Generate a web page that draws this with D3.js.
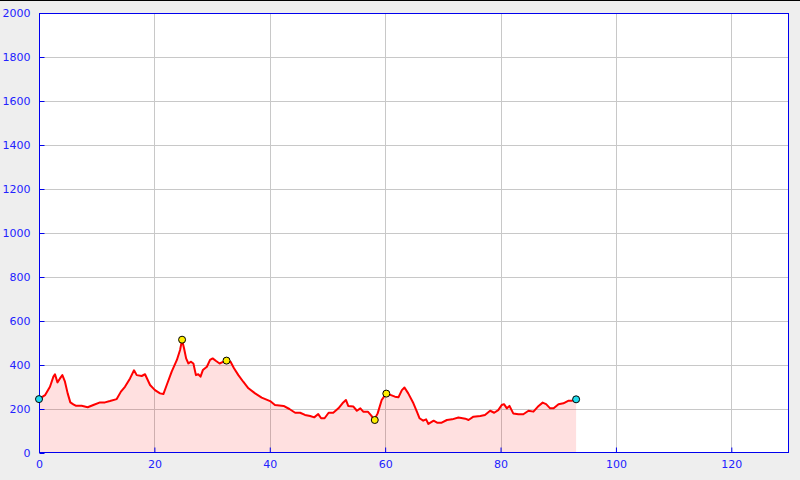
<!DOCTYPE html>
<html>
<head>
<meta charset="utf-8">
<script src="https://cdn.jsdelivr.net/npm/d3@7"></script>
<style>
html,body{margin:0;padding:0;background:#eeeeee;}
svg{display:block;}
</style>
</head>
<body>
<svg id="chart" width="800" height="480"></svg>
<script>
const distances = [0,1.04,1.9,2.5,2.77,3.2,3.64,4.05,4.5,4.97,5.43,5.95,6.36,7.4,8.44,9.42,10.58,11.44,12.3,13.47,14.2,14.9,15.78,16.47,16.94,17.8,18.38,19.25,20.1,20.98,21.56,22.14,23.0,23.9,24.45,24.8,25.14,25.5,25.9,26.3,26.76,27.2,27.6,28.0,28.4,29.1,29.65,30.1,30.7,31.3,32.0,32.5,33.2,33.8,34.56,35.4,36.3,37.46,38.6,40.06,40.9,42.4,43.4,44.4,45.26,46.1,47.0,47.7,48.4,48.9,49.5,50.2,51.0,51.9,52.6,53.2,53.6,54.5,55.1,55.7,56.2,57.0,57.6,58.1,58.7,59.4,60.2,60.9,61.7,62.3,62.9,63.35,64.0,64.9,65.5,65.95,66.6,67.1,67.5,68.4,69.0,69.8,70.7,71.6,72.7,73.9,74.45,75.3,76.5,77.3,78.2,78.9,79.6,80.2,80.6,81.1,81.55,82.2,83.1,83.95,84.85,85.7,86.6,87.3,87.9,88.6,89.2,90.05,90.9,91.8,92.4,93.1];
const elevations = [245,263,301,347,358,321,339,354,324,271,230,221,215,215,208,218,230,230,236,245,279,301,339,376,354,350,358,309,286,271,268,309,370,423,468,514,476,430,407,415,407,354,358,347,377,392,423,430,418,407,415,423,415,385,354,324,294,271,252,236,218,214,200,183,183,173,168,162,177,158,158,183,183,203,226,241,214,211,192,203,188,188,170,150,180,241,271,264,256,253,286,298,271,226,188,158,147,153,132,147,138,138,150,153,161,156,150,165,168,173,192,183,195,218,222,203,214,180,176,176,192,188,214,229,222,203,203,222,226,238,238,244];
const endpointDist = [0, 93.1];
const endpointElev = [245, 244];
const summitDist = [24.8, 32.5, 58.2, 60.2];
const summitElev = [515, 420, 150, 270];
const xTicks = [0,20,40,60,80,100,120];
const yTicks = [0,200,400,600,800,1000,1200,1400,1600,1800,2000];

const svg = d3.select('#chart');
const pl = 39, pr = 789, pt = 13, pb = 453;
const x = d3.scaleLinear().domain([0,130]).range([pl,pr]);
const y = d3.scaleLinear().domain([0,2000]).range([pb,pt]);

svg.append('rect').attr('x',0).attr('y',0).attr('width',800).attr('height',480).attr('fill','#eeeeee');
svg.append('line').attr('x1',0).attr('x2',800).attr('y1',0.5).attr('y2',0.5).attr('stroke','#000');
svg.append('rect').attr('x',pl).attr('y',pt).attr('width',pr-pl).attr('height',pb-pt).attr('fill','#ffffff');

// grid
const g = svg.append('g');
g.selectAll('.gx').data(xTicks.filter(d=>d>0)).enter().append('line')
  .attr('x1',d=>Math.round(x(d))+0.5).attr('x2',d=>Math.round(x(d))+0.5)
  .attr('y1',pt).attr('y2',pb).attr('stroke','#c8c8c8');
g.selectAll('.gy').data(yTicks.filter(d=>d>0 && d<2000)).enter().append('line')
  .attr('y1',d=>Math.round(y(d))+0.5).attr('y2',d=>Math.round(y(d))+0.5)
  .attr('x1',pl).attr('x2',pr).attr('stroke','#c8c8c8');

const pts = distances.map((d,i)=>[d,elevations[i]]);
const area = d3.area().x(d=>x(d[0])).y0(y(0)).y1(d=>y(d[1]));
svg.append('path').datum(pts).attr('d',area).attr('fill','#ff0000').attr('fill-opacity',0.12);
const line = d3.line().x(d=>x(d[0])).y(d=>y(d[1]));
svg.append('path').datum(pts).attr('d',line).attr('fill','none').attr('stroke','#ff0000').attr('stroke-width',2).attr('stroke-linejoin','round');

// frame
svg.append('rect').attr('x',pl+0.5).attr('y',pt+0.5).attr('width',pr-pl-1).attr('height',pb-pt-1)
  .attr('fill','none').attr('stroke','#0000ee');

// axes
const xAxis = d3.axisBottom(x).tickValues(xTicks).tickSize(-5).tickPadding(8).tickFormat(d3.format('d'));
const ax = svg.append('g').attr('transform',`translate(0,${pb-0.5})`).call(xAxis);
const yAxis = d3.axisLeft(y).tickValues(yTicks).tickSize(-5).tickPadding(9).tickFormat(d3.format('d'));
const ay = svg.append('g').attr('transform',`translate(${pl+0.5},0)`).call(yAxis);
[ax,ay].forEach(a=>{
  a.select('.domain').remove();
  a.selectAll('line').attr('stroke','#0000ee');
  a.selectAll('text').attr('fill','#2222ff').style('font-family','DejaVu Sans').style('font-size','11px');
});

// markers
svg.selectAll('.ep').data(endpointDist).enter().append('circle')
  .attr('cx',d=>x(d)).attr('cy',(d,i)=>y(endpointElev[i])).attr('r',3.5)
  .attr('fill','#22ddee').attr('stroke','#000').attr('stroke-width',1);
svg.selectAll('.sm').data(summitDist).enter().append('circle')
  .attr('cx',d=>x(d)).attr('cy',(d,i)=>y(summitElev[i])).attr('r',3.5)
  .attr('fill','#ffee00').attr('stroke','#000').attr('stroke-width',1);
</script>
</body>
</html>
